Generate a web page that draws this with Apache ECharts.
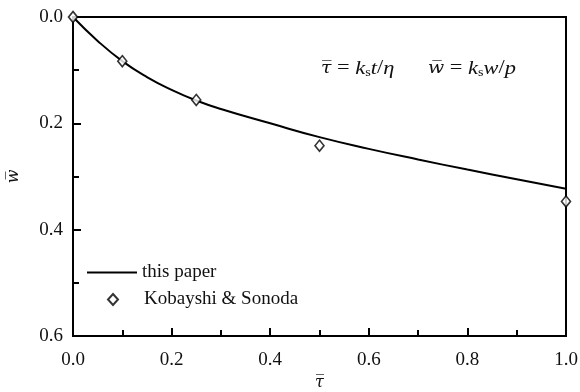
<!DOCTYPE html>
<html>
<head>
<meta charset="utf-8">
<script src="https://cdn.jsdelivr.net/npm/echarts@6/dist/echarts.min.js"></script>
<style>
  html, body { margin: 0; padding: 0; background: #fff; }
  #chart { width: 580px; height: 392px; }
</style>
</head>
<body>
<div id="chart"></div>
<script>
// Dimensionless settlement vs. dimensionless time
const tauCurve = [0, 0.05, 0.1, 0.15, 0.2, 0.25, 0.3, 0.4, 0.5, 0.6, 0.7, 0.8, 0.9, 1.0];
const wCurve   = [0, 0.045, 0.083, 0.113, 0.137, 0.157, 0.173, 0.200, 0.226, 0.248, 0.268, 0.287, 0.305, 0.323];

const tauKS = [0, 0.1, 0.25, 0.5, 1.0];
const wKS   = [0, 0.083, 0.156, 0.242, 0.347];

const seriesNames = ['this paper', 'Kobayshi & Sonoda'];
const xTicks = { min: 0, max: 1, interval: 0.2 };
const yTicks = { min: 0, max: 0.6, interval: 0.2 };

const serif = '"Liberation Serif", "DejaVu Serif", serif';
const barred = '"DejaVu Serif", serif';   // has combining overline glyphs
const fs = 19;

const chart = echarts.init(document.getElementById('chart'), null, { renderer: 'canvas' });

const axisCommon = {
  axisLine: { show: true, onZero: false, lineStyle: { color: '#000', width: 2 } },
  axisTick: { show: true, inside: true, length: 8, lineStyle: { color: '#000', width: 2 } },
  minorTick: { show: true, splitNumber: 2, length: 6, lineStyle: { color: '#000', width: 2 } },
  splitLine: { show: false },
  axisLabel: {
    color: '#111', fontFamily: serif, fontSize: fs,
    formatter: v => v.toFixed(1)
  },
  nameTextStyle: { color: '#111', fontFamily: barred, fontSize: 16, fontStyle: 'italic' }
};

const legendText = { color: '#111', fontFamily: serif, fontSize: fs };

chart.setOption({
  animation: false,
  backgroundColor: '#fff',
  grid: {
    left: 73, right: 14, top: 17, bottom: 56,
    outerBoundsMode: 'none',
    containLabel: false,
    show: true, borderColor: '#000', borderWidth: 2, backgroundColor: 'transparent'
  },
  xAxis: Object.assign({}, axisCommon, {
    type: 'value',
    min: xTicks.min, max: xTicks.max, interval: xTicks.interval,
    name: '\u03C4\u0305',
    nameLocation: 'middle',
    nameGap: 39,
    axisLabel: Object.assign({}, axisCommon.axisLabel, { margin: 15 })
  }),
  yAxis: Object.assign({}, axisCommon, {
    type: 'value',
    inverse: true,
    min: yTicks.min, max: yTicks.max, interval: yTicks.interval,
    name: 'w\u0305',
    nameLocation: 'middle',
    nameRotate: 90,
    nameGap: 51,
    axisLabel: Object.assign({}, axisCommon.axisLabel, { margin: 10 })
  }),
  legend: [
    {
      left: 87, top: 263, padding: 0,
      itemWidth: 50, itemHeight: 2,
      textStyle: legendText,
      data: [{ name: seriesNames[0], icon: 'rect' }]
    },
    {
      left: 107, top: 290, padding: 0,
      itemWidth: 10, itemHeight: 11,
      textStyle: Object.assign({}, legendText, { padding: [0, 0, 0, 21] }),
      data: [{ name: seriesNames[1], icon: 'diamond' }]
    }
  ],
  graphic: [{
    type: 'text',
    left: 321, top: 59,
    scaleX: 1.18,
    style: {
      text: '{b|\u03C4\u0305} = {i|k}{s|s}{i|t}/{i|\u03B7}      {b|w\u0305} = {i|k}{s|s}{i|w}/{i|p}',
      fill: '#111',
      font: fs + 'px ' + serif,
      rich: {
        b: { fontFamily: barred, fontSize: 16, fontStyle: 'italic', fill: '#111' },
        i: { fontFamily: serif, fontSize: fs, fontStyle: 'italic', fill: '#111' },
        s: { fontFamily: serif, fontSize: 12, fill: '#111', padding: [8, 0, 0, 0] }
      }
    }
  }],
  series: [
    {
      name: seriesNames[0],
      type: 'line',
      smooth: true,
      symbol: 'none',
      data: tauCurve.map((t, i) => [t, wCurve[i]]),
      lineStyle: { color: '#000', width: 2 },
      itemStyle: { color: '#000' },
      z: 2
    },
    {
      name: seriesNames[1],
      type: 'scatter',
      symbol: 'diamond',
      symbolSize: [9, 11],
      data: tauKS.map((t, i) => [t, wKS[i]]),
      itemStyle: { color: '#fff', borderColor: '#000', borderWidth: 1.6 },
      clip: false,
      z: 3
    }
  ]
});
</script>
</body>
</html>
